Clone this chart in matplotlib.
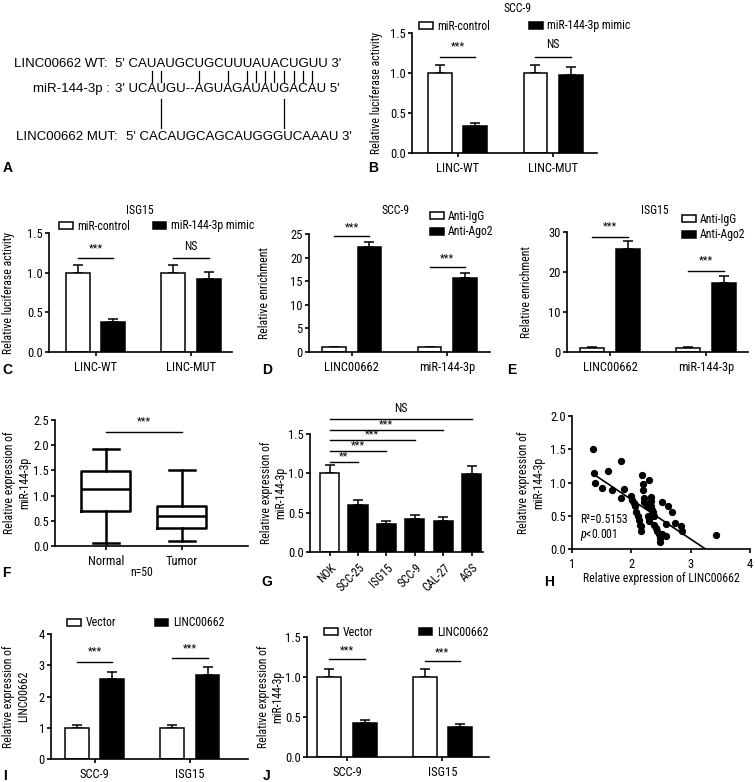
import numpy as np
import matplotlib.pyplot as plt
from matplotlib.patches import Patch
from matplotlib.lines import Line2D

plt.rcParams['font.family'] = ['Roboto Condensed', 'Liberation Sans', 'DejaVu Sans']
plt.rcParams['mathtext.fontset'] = 'custom'
plt.rcParams['mathtext.it'] = 'Roboto Condensed:italic'
plt.rcParams['mathtext.rm'] = 'Roboto Condensed'

# ---- data ----
# A: sequence alignment
wt_label, wt_seq = "LINC00662 WT:", "5' CAUAUGCUGCUUUAUACUGUU 3'"
mir_label, mir_seq = "miR-144-3p :", "3' UCAUGU--AGUAGAUAUGACAU 5'"
mut_label, mut_seq = "LINC00662 MUT:", "5' CACAUGCAGCAUGGGUCAAAU 3'"
wt_pairs = [2, 3, 8, 11, 13, 14, 15, 16, 17, 18, 19, 20]
mut_pairs = [3, 17]

# B / C: luciferase
luc_groups = ['LINC-WT', 'LINC-MUT']
luc_legend = ['miR-control', 'miR-144-3p mimic']
b_ctrl, b_ctrl_err = [1.0, 1.0], [0.10, 0.10]
b_mimic, b_mimic_err = [0.34, 0.98], [0.04, 0.10]
c_ctrl, c_ctrl_err = [1.0, 1.0], [0.10, 0.10]
c_mimic, c_mimic_err = [0.38, 0.92], [0.04, 0.09]

# D / E: RIP
rip_groups = ['LINC00662', 'miR-144-3p']
rip_legend = ['Anti-IgG', 'Anti-Ago2']
d_igg, d_igg_err = [1.0, 1.0], [0.15, 0.15]
d_ago, d_ago_err = [22.3, 15.7], [1.1, 1.1]
e_igg, e_igg_err = [1.0, 1.0], [0.2, 0.2]
e_ago, e_ago_err = [25.8, 17.3], [2.0, 1.8]

# F: box plot (n=50)
box_groups = ['Normal', 'Tumor']
box_low = [0.05, 0.10]
box_q1 = [0.70, 0.36]
box_med = [1.13, 0.60]
box_q3 = [1.48, 0.80]
box_high = [1.92, 1.50]

# G: cell lines
cell_lines = ['NOK', 'SCC-25', 'ISG15', 'SCC-9', 'CAL-27', 'AGS']
g_vals = [1.0, 0.60, 0.36, 0.42, 0.40, 0.99]
g_err = [0.10, 0.06, 0.04, 0.05, 0.05, 0.10]
g_sig = ['**', '***', '***', '***', 'NS']
g_sig_y = [1.15, 1.29, 1.42, 1.55, 1.69]

# H: correlation
h_x = [1.35, 1.37, 1.38, 1.51, 1.61, 1.68, 1.83, 1.83, 1.88, 1.99,
       2.01, 2.04, 2.07, 2.08, 2.11, 2.13, 2.14, 2.16, 2.17, 2.18,
       2.19, 2.20, 2.21, 2.22, 2.27, 2.28, 2.29, 2.29, 2.30, 2.33,
       2.33, 2.33, 2.34, 2.36, 2.38, 2.39, 2.41, 2.43, 2.46, 2.48,
       2.48, 2.51, 2.52, 2.58, 2.59, 2.61, 2.69, 2.74, 2.84, 2.85, 3.43]
h_y = [1.50, 1.14, 0.99, 0.92, 1.18, 0.89, 1.32, 0.76, 0.90, 0.80,
       0.73, 0.69, 0.65, 0.55, 0.49, 0.43, 0.36, 0.34, 0.27, 1.12,
       0.98, 0.88, 0.76, 0.70, 0.65, 0.50, 1.04, 0.42, 0.47, 0.78,
       0.72, 0.64, 0.59, 0.55, 0.49, 0.36, 0.32, 0.27, 0.23, 0.16,
       0.11, 0.23, 0.70, 0.37, 0.19, 0.65, 0.55, 0.39, 0.34, 0.27, 0.21]
fit_slope, fit_intercept = -0.596, 1.937
fit_x = [1.37, 3.25]

# I / J: overexpression
oe_groups = ['SCC-9', 'ISG15']
oe_legend = ['Vector', 'LINC00662']
i_vec, i_vec_err = [1.0, 1.0], [0.10, 0.10]
i_linc, i_linc_err = [2.55, 2.68], [0.25, 0.27]
j_vec, j_vec_err = [1.0, 1.0], [0.10, 0.10]
j_linc, j_linc_err = [0.42, 0.37], [0.04, 0.04]

# ---- helpers ----
W, H = 755, 782
TICK = 9
LAB = 8.5
fig = plt.figure(figsize=(W / 100, H / 100), dpi=100)


def fx(px):
    return px / W


def fy(py):
    return 1 - py / H


def add_ax(l, r, t, b):
    return fig.add_axes([fx(l), fy(b), (r - l) / W, (b - t) / H])


def style(ax):
    for s in ['top', 'right']:
        ax.spines[s].set_visible(False)
    for s in ['left', 'bottom']:
        ax.spines[s].set_linewidth(1.2)
    ax.tick_params(width=1.2, length=3, labelsize=TICK)
    ax.tick_params(axis='y', pad=1.5)


def grouped_bars(ax, groups, a, a_err, b, b_err, off=0.185, w=0.25):
    x = np.arange(len(groups))
    ax.bar(x - off, a, w, color='white', edgecolor='black', linewidth=1.1, zorder=2)
    ax.bar(x + off, b, w, color='black', edgecolor='black', linewidth=1.1, zorder=2)
    for xs, v, e in [(x - off, a, a_err), (x + off, b, b_err)]:
        ax.errorbar(xs, v, yerr=[np.zeros(len(v)), e], fmt='none', ecolor='black',
                    elinewidth=1.1, capsize=3.5, capthick=1.1, zorder=1)
    ax.set_xticks(x)
    ax.set_xticklabels(groups)
    return x


def sig(ax, x0, x1, yl, yt, s):
    ax.plot([x0, x1], [yl, yl], color='black', lw=1, clip_on=False)
    ax.text((x0 + x1) / 2, yt, s, ha='center', va='center',
            fontsize=8 if s != 'NS' else LAB, clip_on=False)


def legend(ax, labels, x_px, y_px, ncol, colsp):
    handles = [Patch(facecolor=c, edgecolor='black', lw=1.1, label=l)
               for l, c in zip(labels, ['white', 'black'])]
    ax.legend(handles=handles, loc='center left', bbox_to_anchor=(fx(x_px), fy(y_px)),
              bbox_transform=fig.transFigure, ncol=ncol, frameon=False, fontsize=LAB,
              handlelength=1.15, handleheight=0.5, handletextpad=0.4,
              columnspacing=colsp, borderpad=0, borderaxespad=0, labelspacing=0.25)


def ftext(x, y, s, **kw):
    fig.text(fx(x), fy(y), s, **kw)


# ---- A ----
seq_font = dict(family='Liberation Sans', fontsize=9.5, va='center')
ftext(107, 64, wt_label, ha='right', **seq_font)
ftext(115, 64, wt_seq, ha='left', **seq_font)
ftext(110, 89, mir_label, ha='right', **seq_font)
mir_text = fig.text(fx(115), fy(89), mir_seq, ha='left', **seq_font)
ftext(118, 137, mut_label, ha='right', **seq_font)
ftext(126, 137, mut_seq, ha='left', **seq_font)

fig.canvas.draw()
renderer = fig.canvas.get_renderer()
prop = mir_text.get_fontproperties()


def char_center(s, k):
    w_full = renderer.get_text_width_height_descent(s[:k + 1], prop, ismath=False)[0]
    w_c = renderer.get_text_width_height_descent(s[k], prop, ismath=False)[0]
    return 115 + w_full - w_c / 2


for idx in wt_pairs:
    xc = char_center(mir_seq, 3 + idx)
    fig.add_artist(Line2D([fx(xc), fx(xc)], [fy(71), fy(82)], transform=fig.transFigure,
                          color='black', lw=0.9))
for idx in mut_pairs:
    xc = char_center(mir_seq, 3 + idx)
    fig.add_artist(Line2D([fx(xc), fx(xc)], [fy(99), fy(128)], transform=fig.transFigure,
                          color='black', lw=0.9))

# ---- B ----
axB = add_ax(412, 597, 33, 153)
style(axB)
x = grouped_bars(axB, luc_groups, b_ctrl, b_ctrl_err, b_mimic, b_mimic_err)
axB.set_xlim(-0.48, 1.46)
axB.set_ylim(0, 1.5)
axB.set_yticks([0, 0.5, 1.0, 1.5])
axB.set_ylabel('Relative luciferase activity', fontsize=LAB)
axB.yaxis.set_label_coords(-0.155, 0.5)
sig(axB, x[0] - 0.185, x[0] + 0.185, 1.2, 1.33, '***')
sig(axB, x[1] - 0.185, x[1] + 0.185, 1.2, 1.35, 'NS')
legend(axB, luc_legend, 419, 26, 2, 3.3)
ftext(518, 8, 'SCC-9', ha='center', va='center', fontsize=LAB)

# ---- C ----
axC = add_ax(49, 232, 233, 352)
style(axC)
x = grouped_bars(axC, luc_groups, c_ctrl, c_ctrl_err, c_mimic, c_mimic_err)
axC.set_xlim(-0.49, 1.43)
axC.set_ylim(0, 1.5)
axC.set_yticks([0, 0.5, 1.0, 1.5])
axC.set_ylabel('Relative luciferase activity', fontsize=LAB)
axC.yaxis.set_label_coords(-0.185, 0.5)
sig(axC, x[0] - 0.185, x[0] + 0.185, 1.18, 1.31, '***')
sig(axC, x[1] - 0.185, x[1] + 0.185, 1.18, 1.33, 'NS')
legend(axC, luc_legend, 59, 226, 2, 1.9)
ftext(140, 210, 'ISG15', ha='center', va='center', fontsize=LAB)

# ---- D ----
axD = add_ax(309, 490, 234, 352)
style(axD)
x = grouped_bars(axD, rip_groups, d_igg, d_igg_err, d_ago, d_ago_err)
axD.set_xlim(-0.45, 1.45)
axD.set_ylim(0, 25)
axD.set_yticks([0, 5, 10, 15, 20, 25])
axD.set_ylabel('Relative enrichment', fontsize=LAB)
axD.yaxis.set_label_coords(-0.21, 0.5)
sig(axD, x[0] - 0.185, x[0] + 0.185, 24.6, 26.3, '***')
sig(axD, x[1] - 0.185, x[1] + 0.185, 18.0, 19.9, '***')
legend(axD, rip_legend, 430, 224, 1, 1)
ftext(395, 210, 'SCC-9', ha='center', va='center', fontsize=LAB)

# ---- E ----
axE = add_ax(567, 748, 232, 352)
style(axE)
x = grouped_bars(axE, rip_groups, e_igg, e_igg_err, e_ago, e_ago_err)
axE.set_xlim(-0.45, 1.44)
axE.set_ylim(0, 30)
axE.set_yticks([0, 10, 20, 30])
axE.set_ylabel('Relative enrichment', fontsize=LAB)
axE.yaxis.set_label_coords(-0.19, 0.5)
sig(axE, x[0] - 0.185, x[0] + 0.185, 28.75, 31.3, '***')
sig(axE, x[1] - 0.185, x[1] + 0.185, 20.25, 22.8, '***')
legend(axE, rip_legend, 682, 227, 1, 1)
ftext(655, 210, 'ISG15', ha='center', va='center', fontsize=LAB)

# ---- F ----
axF = add_ax(55, 248, 420, 546)
style(axF)
stats = [dict(med=m, q1=a, q3=b, whislo=lo, whishi=hi, label=g)
         for g, lo, a, m, b, hi in zip(box_groups, box_low, box_q1, box_med, box_q3, box_high)]
lw = 1.8
axF.bxp(stats, positions=[1, 2], widths=0.645, showfliers=False, capwidths=0.34,
        boxprops=dict(lw=lw, color='black'), medianprops=dict(lw=lw, color='black'),
        whiskerprops=dict(lw=lw, color='black'), capprops=dict(lw=lw, color='black'))
axF.set_xlim(0.33, 2.87)
axF.set_ylim(0, 2.5)
axF.set_yticks([0, 0.5, 1.0, 1.5, 2.0, 2.5])
axF.set_ylabel('Relative expression of\nmiR-144-3p', fontsize=LAB)
axF.yaxis.set_label_coords(-0.125, 0.5)
sig(axF, 1, 2, 2.26, 2.47, '***')
ftext(142, 572, 'n=50', ha='center', va='center', fontsize=LAB)

# ---- G ----
axG = add_ax(310, 483, 434, 552)
style(axG)
xg = np.arange(len(cell_lines))
axG.bar(xg, g_vals, 0.67, color=['white'] + ['black'] * 5, edgecolor='black',
        linewidth=1.1, zorder=2)
axG.errorbar(xg, g_vals, yerr=[np.zeros(len(g_vals)), g_err], fmt='none', ecolor='black',
             elinewidth=1.1, capsize=3.5, capthick=1.1, zorder=1)
axG.set_xticks(xg)
axG.set_xticklabels(cell_lines, rotation=45, ha='right', rotation_mode='anchor', fontsize=LAB)
axG.set_xlim(-0.69, 5.4)
axG.set_ylim(0, 1.5)
axG.set_yticks([0, 0.5, 1.0, 1.5])
axG.set_ylabel('Relative expression of\nmiR-144-3p', fontsize=LAB)
axG.yaxis.set_label_coords(-0.13, 0.5)
for k, (s, yy) in enumerate(zip(g_sig, g_sig_y)):
    sig(axG, xg[0], xg[k + 1], yy, yy + (0.14 if s == 'NS' else 0.07), s)

# ---- H ----
axH = add_ax(572, 750, 416, 549)
style(axH)
axH.scatter(h_x, h_y, s=18, color='black', clip_on=False, zorder=3)
fx_arr = np.array(fit_x)
axH.plot(fx_arr, fit_slope * fx_arr + fit_intercept, color='black', lw=1.2)
axH.set_xlim(1, 4)
axH.set_ylim(0, 2)
axH.set_xticks([1, 2, 3, 4])
axH.set_yticks([0, 0.5, 1.0, 1.5, 2.0])
axH.set_ylabel('Relative expression of\nmiR-144-3p', fontsize=LAB)
axH.yaxis.set_label_coords(-0.15, 0.5)
axH.set_xlabel('Relative expression of LINC00662', fontsize=LAB, labelpad=1)
axH.text(1.14, 0.44, 'R²=0.5153', fontsize=LAB, ha='left', va='center')
axH.text(1.14, 0.21, r'$p$<0.001', fontsize=LAB, ha='left', va='center')

# ---- I ----
axI = add_ax(51, 248, 634, 759)
style(axI)
x = grouped_bars(axI, oe_groups, i_vec, i_vec_err, i_linc, i_linc_err)
axI.set_xlim(-0.46, 1.61)
axI.set_ylim(0, 4)
axI.set_yticks([0, 1, 2, 3, 4])
axI.set_ylabel('Relative expression of\nLINC00662', fontsize=LAB)
axI.yaxis.set_label_coords(-0.105, 0.5)
sig(axI, x[0] - 0.185, x[0] + 0.185, 3.1, 3.45, '***')
sig(axI, x[1] - 0.185, x[1] + 0.185, 3.23, 3.55, '***')
legend(axI, oe_legend, 67, 623, 2, 3.3)

# ---- J ----
axJ = add_ax(307, 489, 637, 757)
style(axJ)
x = grouped_bars(axJ, oe_groups, j_vec, j_vec_err, j_linc, j_linc_err)
axJ.set_xlim(-0.42, 1.49)
axJ.set_ylim(0, 1.5)
axJ.set_yticks([0, 0.5, 1.0, 1.5])
axJ.set_ylabel('Relative expression of\nmiR-144-3p', fontsize=LAB)
axJ.yaxis.set_label_coords(-0.123, 0.5)
sig(axJ, x[0] - 0.185, x[0] + 0.185, 1.22, 1.33, '***')
sig(axJ, x[1] - 0.185, x[1] + 0.185, 1.20, 1.31, '***')
legend(axJ, oe_legend, 324, 632, 2, 3.9)

# ---- panel letters ----
letters = [('A', 8, 168), ('B', 373, 168), ('C', 7, 370), ('D', 267, 370), ('E', 512, 370),
           ('F', 6, 573), ('G', 267, 582), ('H', 549, 582), ('I', 5, 776), ('J', 267, 776)]
for s, xx, yy in letters:
    ftext(xx, yy, s, fontsize=10, fontweight='bold', ha='center', va='center',
          family=['Liberation Sans', 'DejaVu Sans'])

fig.savefig('out.png', dpi=100)
